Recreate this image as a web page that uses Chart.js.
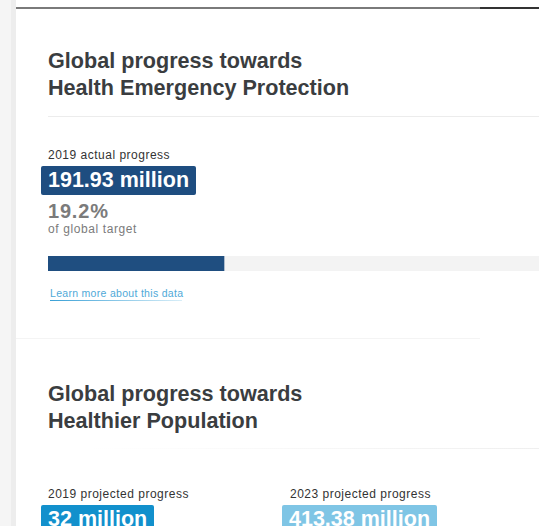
<!DOCTYPE html>
<html>
<head>
<meta charset="utf-8">
<script src="https://cdn.jsdelivr.net/npm/chart.js@4"></script>
<style>
  html, body { margin: 0; padding: 0; width: 539px; height: 526px; overflow: hidden; background: #fff; font-family: "Liberation Sans", Arial, sans-serif; }
  #page { position: relative; width: 539px; height: 526px; overflow: hidden; }
  .strip { position: absolute; left: 0; top: 0; width: 11px; height: 526px; background: #f5f5f5; }
  .strip2 { position: absolute; left: 11px; top: 0; width: 5px; height: 526px; background: #ededed; }
  .topline { position: absolute; left: 16px; top: 7px; width: 464px; height: 2px; background: #7a7a7a; }
  .topline2 { position: absolute; left: 480px; top: 7px; width: 59px; height: 2px; background: #333; }
  .title { position: absolute; left: 48px; font-weight: bold; font-size: 21.6px; line-height: 27px; color: #3a3d40; white-space: nowrap; }
  .rule { position: absolute; height: 1px; background: #ececec; }
  .lbl { position: absolute; font-size: 12px; letter-spacing: 0.5px; color: #333; white-space: nowrap; }
  .box { position: absolute; height: 29px; border-radius: 2px; color: #fff; font-weight: bold; font-size: 21.5px; line-height: 29px; padding: 0 7px 0 7px; white-space: nowrap; }
  .pct { position: absolute; left: 48px; top: 200px; font-size: 20px; font-weight: bold; letter-spacing: 0.8px; color: #7b7b7b; }
  .of { position: absolute; left: 48px; top: 222px; font-size: 12px; letter-spacing: 0.6px; color: #7b7b7b; }
  .link { position: absolute; left: 50px; top: 287px; font-size: 10.5px; letter-spacing: 0.3px; color: #4fa9d8; white-space: nowrap; }
  .uline { position: absolute; left: 50px; top: 300px; width: 132px; height: 1px; background: linear-gradient(to right, #3aa0d6, #d8eef8); }
  #barWrap { position: absolute; left: 48px; top: 256px; width: 491px; height: 15px; overflow: hidden; }
</style>
</head>
<body>
<div id="page">
  <div class="strip"></div><div class="strip2"></div>
  <div class="topline"></div><div class="topline2"></div>

  <div class="title" id="title1" style="top:47px"></div>
  <div class="rule" style="left:48px; top:116px; width:491px;"></div>

  <div class="lbl" id="actualLabel" style="left:48px; top:148px;"></div>
  <div class="box" id="actualBox" style="left:41px; top:166px; background:#1e4d80;"></div>
  <div class="pct" id="pct"></div>
  <div class="of">of global target</div>

  <div id="barWrap"><canvas id="progressChart" width="917" height="15"></canvas></div>

  <div class="link">Learn more about this data</div>
  <div class="uline"></div>

  <div class="rule" style="left:16px; top:338px; width:464px; background:#f4f4f4;"></div>

  <div class="title" id="title2" style="top:380px"></div>
  <div class="rule" style="left:90px; top:448px; width:449px; background:linear-gradient(to right,#fff,#efefef);"></div>

  <div class="lbl" id="popLabel0" style="left:48px; top:487px;"></div>
  <div class="box" id="popBox0" style="left:41px; top:505px; background:#1290cc;"></div>
  <div class="lbl" id="popLabel1" style="left:290px; top:487px;"></div>
  <div class="box" id="popBox1" style="left:282px; top:505px; background:#7fc5e5;"></div>
</div>

<script>
  // textos e valores
  const sectionTitles = ['Global progress towards<br>Health Emergency Protection', 'Global progress towards<br>Healthier Population'];
  const actualLabels = ['2019 actual progress'];
  const actualValues = [191.93];     // milhões
  const globalTarget = [1000];       // milhões (meta global)
  const populationLabels = ['2019 projected progress', '2023 projected progress'];
  const populationValues = [32, 413.38];  // milhões

  function milhoes(v) {
    return v + ' million';
  }

  document.getElementById('title1').innerHTML = sectionTitles[0];
  document.getElementById('title2').innerHTML = sectionTitles[1];
  document.getElementById('actualLabel').textContent = actualLabels[0];
  document.getElementById('actualBox').textContent = milhoes(actualValues[0]);
  document.getElementById('pct').textContent = (actualValues[0] / globalTarget[0] * 100).toFixed(1) + '%';
  populationLabels.forEach((l, i) => {
    document.getElementById('popLabel' + i).textContent = l;
    document.getElementById('popBox' + i).textContent = milhoes(populationValues[i]);
  });

  // barra de progresso (barra horizontal sobre o trilho cinza)
  const ctx = document.getElementById('progressChart').getContext('2d');
  new Chart(ctx, {
    type: 'bar',
    data: {
      labels: actualLabels,
      datasets: [
        {
          label: 'Progress',
          data: actualValues,
          backgroundColor: '#1f4e80',
          borderWidth: 0,
          barPercentage: 1,
          categoryPercentage: 1,
          grouped: false,
          order: 1
        },
        {
          label: 'Target',
          data: globalTarget,
          backgroundColor: '#f3f3f3',
          borderWidth: 0,
          barPercentage: 1,
          categoryPercentage: 1,
          grouped: false,
          order: 2
        }
      ]
    },
    options: {
      indexAxis: 'y',
      responsive: false,
      animation: false,
      devicePixelRatio: 1,
      layout: { padding: 0 },
      scales: {
        x: { display: false, min: 0, max: globalTarget[0] },
        y: { display: false }
      },
      plugins: {
        legend: { display: false },
        tooltip: { enabled: false }
      }
    }
  });
</script>
</body>
</html>
